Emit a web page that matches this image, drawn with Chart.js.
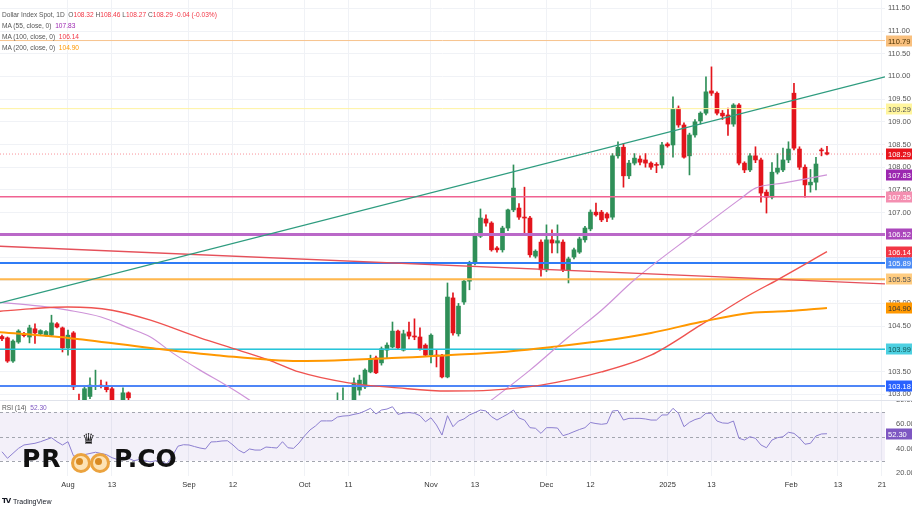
<!DOCTYPE html>
<html><head><meta charset="utf-8">
<script src="https://cdn.jsdelivr.net/npm/chart.js@4.4.1/dist/chart.umd.min.js"></script>
<style>
html,body{margin:0;padding:0;background:#fff;}
#wrap{position:relative;width:912px;height:513px;overflow:hidden;font-family:'Liberation Sans',Arial,sans-serif;background:#fff;}
canvas{position:absolute;left:0;}
.t{position:absolute;white-space:nowrap;font-size:6.6px;color:#555;line-height:8px;}
.g{color:#555}.r{color:#f23645}.p{color:#9c27b0}.o{color:#ff9800}.v{color:#7e57c2}
</style></head>
<body><div id="wrap">
<canvas id="cPrice" width="912" height="400" style="top:0;width:912px;height:400px"></canvas>
<canvas id="cRsi" width="912" height="95" style="top:400px;width:912px;height:95px"></canvas>
<div style="position:absolute;left:0;top:400px;width:912px;height:1px;background:#e0e3eb"></div>

<div class="t" style="left:2px;top:11px">Dollar Index Spot, 1D&nbsp; <span class="g">O</span><span class="r">108.32</span> <span class="g">H</span><span class="r">108.46</span> <span class="g">L</span><span class="r">108.27</span> <span class="g">C</span><span class="r">108.29</span> <span class="r">-0.04 (-0.03%)</span></div>
<div class="t" style="left:2px;top:22px">MA (55, close, 0)&nbsp; <span class="p">107.83</span></div>
<div class="t" style="left:2px;top:33px">MA (100, close, 0)&nbsp; <span class="r">106.14</span></div>
<div class="t" style="left:2px;top:44px">MA (200, close, 0)&nbsp; <span class="o">104.90</span></div>
<div class="t" style="left:2px;top:404px">RSI (14)&nbsp; <span class="v">52.30</span></div>

<!-- watermark logo -->
<div style="position:absolute;left:22px;top:446px;font:bold 25px 'DejaVu Sans';color:#111;letter-spacing:1px;line-height:26px">PR</div>
<div style="position:absolute;left:71px;top:453px;width:14px;height:14px;border:3px solid #eba33f;border-radius:50%;background:#fde3b5"></div>
<div style="position:absolute;left:76px;top:458px;width:7px;height:7px;border-radius:50%;background:#d98a22"></div>
<div style="position:absolute;left:90px;top:453px;width:14px;height:14px;border:3px solid #eba33f;border-radius:50%;background:#fde3b5"></div>
<div style="position:absolute;left:95px;top:458px;width:7px;height:7px;border-radius:50%;background:#d98a22"></div>
<div style="position:absolute;left:82px;top:431px;font:15px 'DejaVu Sans';color:#111;line-height:16px">♛</div>
<div style="position:absolute;left:114px;top:446px;font:bold 25px 'DejaVu Sans';color:#111;letter-spacing:0px;line-height:26px">P.CO</div>

<div style="position:absolute;left:2px;top:497px;font:bold 7px 'DejaVu Sans';color:#131722;letter-spacing:-1px">TV</div>
<div class="t" style="left:13px;top:498px;color:#131722;font-size:7px">TradingView</div>
</div>

<script>
// ---------- data ----------
const candleIdx = [-12,-11,-10,-9,-8,-7,-6,-5,-4,-3,-2,-1,0,1,2,3,4,5,6,7,8,10,11,
 49,50,52,53,54,55,56,57,58,59,60,61,62,63,64,65,66,67,68,69,70,71,72,73,74,75,76,77,78,79,80,
 81,82,83,84,85,86,87,88,89,90,91,92,93,94,95,96,97,98,99,100,101,102,103,104,105,106,107,108,
 109,110,111,112,113,114,115,116,117,118,119,120,121,122,123,124,125,126,127,128,129,130,131,
 132,133,134,135,136,137,138];
const candleOpen = [104.27,104.24,103.73,104.15,104.33,104.26,104.44,104.33,104.30,104.30,104.55,104.46,104.02,104.35,102.85,102.80,102.95,103.17,103.20,103.15,103.12,102.60,103.03,
 102.75,102.80,102.80,103.09,103.16,103.49,103.80,103.69,103.97,104.04,104.39,103.97,104.37,104.28,104.26,104.08,103.86,103.86,103.86,103.38,105.12,104.33,105.03,105.49,105.89,106.48,106.86,106.77,106.22,106.18,106.66,
 107.06,107.10,106.90,106.88,106.04,106.35,105.74,106.40,106.33,106.35,105.74,106.02,106.13,106.40,106.64,107.01,107.01,106.97,106.90,108.25,108.44,107.81,108.09,108.18,108.16,108.09,108.06,108.05,
 108.51,108.49,109.30,108.93,108.25,108.71,109.02,109.19,109.68,109.63,109.19,109.15,108.95,109.37,108.09,107.94,108.25,108.16,107.45,107.34,107.89,107.94,108.16,
 109.63,108.40,108.00,107.61,107.67,108.38,108.32];
const candleHigh = [104.30,104.26,104.20,104.42,104.36,104.52,104.55,104.42,104.40,104.74,104.58,104.48,104.41,104.38,103.00,103.18,103.36,103.53,103.31,103.27,103.16,103.14,103.05,
 103.03,103.14,103.36,103.42,103.56,103.86,103.84,104.04,104.13,104.59,104.41,104.41,104.59,104.66,104.46,104.11,104.33,103.97,103.88,105.45,105.23,105.00,105.52,105.93,106.55,107.08,106.95,106.80,106.25,106.70,107.08,
 108.05,107.20,107.56,106.92,106.18,106.40,106.73,106.62,106.73,106.40,106.02,106.22,106.46,106.70,107.06,107.21,107.05,107.00,108.30,108.56,108.52,108.15,108.30,108.25,108.30,108.12,108.10,108.55,
 108.54,109.55,109.35,108.98,108.75,109.05,109.22,109.99,110.21,109.66,109.25,109.30,109.40,109.40,108.12,108.30,108.45,108.20,107.50,108.10,108.30,108.42,108.56,
 109.85,108.45,108.05,107.95,108.22,108.42,108.46];
const candleLow = [104.18,103.70,103.70,104.12,104.26,104.13,104.12,104.30,104.28,104.28,104.46,103.93,103.86,103.10,102.16,102.70,102.90,103.10,103.14,103.05,102.55,102.50,102.50,
 102.60,102.70,102.70,102.98,103.12,103.47,103.45,103.64,103.80,104.02,103.98,103.95,104.22,104.20,103.97,103.84,103.69,103.60,103.36,103.36,104.30,104.28,104.98,105.30,105.85,106.45,106.70,106.15,106.13,106.13,106.60,
 107.02,106.85,106.51,106.02,106.00,105.60,105.70,106.11,106.11,105.70,105.45,105.98,106.10,106.35,106.60,106.92,106.80,106.80,106.85,108.20,107.56,107.75,108.05,108.05,108.00,107.95,107.88,107.98,
 108.44,108.22,108.88,108.20,107.83,108.66,108.95,109.15,109.58,109.15,109.05,108.70,108.90,108.05,107.88,107.90,108.10,107.23,106.99,107.30,107.85,107.90,108.10,
 108.38,107.95,107.34,107.45,107.50,108.25,108.27];
const candleClose = [104.22,103.73,104.17,104.39,104.29,104.46,104.35,104.40,104.38,104.57,104.48,104.02,104.30,103.16,102.70,103.12,103.20,103.19,103.17,103.10,102.62,103.03,102.92,
 102.80,102.85,103.25,103.31,103.53,103.78,103.47,104.00,104.08,104.39,104.02,104.33,104.28,104.26,104.00,103.86,104.30,103.84,103.38,105.14,104.35,104.94,105.49,105.89,106.51,106.88,106.77,106.18,106.18,106.66,107.06,
 107.54,106.90,106.88,106.07,106.15,105.74,106.40,106.33,106.38,105.74,105.98,106.18,106.42,106.66,107.01,106.95,106.84,106.88,108.25,108.44,107.81,108.09,108.20,108.11,108.09,108.00,108.04,108.49,
 108.47,109.28,108.93,108.22,108.71,109.00,109.19,109.66,109.63,109.19,109.13,108.95,109.37,108.09,107.94,108.25,108.16,107.43,107.34,107.89,107.98,108.16,108.40,
 108.42,108.00,107.61,107.67,108.07,108.36,108.29];

const ma55Idx = [-13,-5,0,6,11,15,19,24,29,33,55,77,84,91,97,103,114,122,125,130,138];
const ma55Val = [105.03,104.94,104.85,104.70,104.46,104.26,103.91,103.53,103.18,102.87,100.90,102.87,103.53,104.26,104.85,105.52,106.55,107.28,107.54,107.65,107.83];
const ma100Idx = [-13,-7,0,8,15,24,31,37,42,51,60,69,77,86,97,106,115,124,129,138];
const ma100Val = [104.82,104.88,104.92,104.85,104.63,104.24,103.97,103.73,103.49,103.25,103.14,103.07,103.09,103.20,103.49,103.86,104.52,105.19,105.52,106.14];
const ma200Idx = [-13,0,15,27,42,60,69,79,88,97,106,115,124,131,138];
const ma200Val = [104.37,104.24,104.02,103.86,103.73,103.80,103.86,103.93,104.04,104.17,104.35,104.59,104.79,104.83,104.90];

const levelVals   = [110.79, 109.29, 107.35, 106.52, 105.89, 105.53, 103.99, 103.18];
const levelColors = ['#f7c48e','#fff3a0','#f06292','#ba68c8','#2f7cf6','#ffb74d','#26c6da','#4f86f7'];
const levelWidths = [1, 1, 1.6, 3, 2, 2, 1.5, 2];
const lastClose = 108.29;

const tealTrendIdx = [-12.36, 148.55];
const tealTrendVal = [105.01, 109.99];
const redTrendIdx  = [-12.36, 148.55];
const redTrendVal  = [106.26, 105.43];

const rsiIdx = [-12,-11,-9,-8,-6,-5,-3,-2,-1,0,1,2,3,4,5,6,7,8,9,10,11,12,13,14,15,16,17,18,19,20,21,22,23,24,25,26,27,28,29,30,
 31,32,33,34,35,36,37,38,39,40,41,42,43,44,45,46,47,48,49,50,51,52,53,54,55,56,57,58,59,60,61,62,63,64,65,66,67,68,69,70,
 71,72,73,74,75,76,77,78,79,80,81,82,83,84,85,86,87,88,89,90,91,92,93,94,95,96,97,98,99,100,101,102,103,104,105,106,107,108,
 109,110,111,112,113,114,115,116,117,118,119,120,121,122,123,124,125,126,127,128,129,130,131,132,133,134,135,136,137,138];
const rsiVal = [37.4,32.0,40.2,43.0,44.4,45.7,49.0,45.7,43.0,45.7,34.0,33.0,35.0,36.0,37.0,36.0,35.0,32.5,31.0,33.0,32.0,30.0,31.0,30.0,29.0,30.0,29.0,27.5,34.0,42.0,43.2,43.0,41.7,40.5,39.7,45.5,45.7,46.3,46.5,43.0,
 38.8,36.4,39.7,38.8,38.8,41.3,40.9,40.5,45.7,40.7,40.2,44.6,50.4,55.4,58.7,62.9,62.9,62.9,66.1,66.9,67.2,68.3,69.2,71.1,73.3,68.6,71.9,72.7,74.6,68.3,69.4,69.8,69.2,67.2,62.2,65.5,59.5,51.2,67.2,58.1,
 62.8,64.5,67.8,69.8,71.9,71.1,66.4,63.6,66.1,68.6,71.9,65.3,63.6,57.3,56.8,52.6,57.3,57.3,57.0,50.7,52.1,54.0,55.8,57.3,61.6,60.7,60.1,60.7,71.1,71.5,63.6,65.0,65.0,65.0,64.5,63.6,63.6,67.8,
 67.8,73.3,69.2,58.1,61.7,64.0,65.3,69.2,69.2,62.8,61.2,60.9,62.8,48.5,47.1,49.8,48.5,43.0,40.7,47.1,49.0,49.8,53.5,52.6,48.8,43.6,44.4,50.4,52.1,52.3];
const rsiLevels = [70, 50, 30];

const dateTickIdx    = [0,8,22,30,43,51,66,74,87,95,109,117,131.5,140,148];
const dateTickLabels = ['Aug','13','Sep','12','Oct','11','Nov','13','Dec','12','2025','13','Feb','13','21'];
const priceTicks = [111.5,111,110.5,110,109.5,109,108.5,108,107.5,107,106.5,106,105.5,105,104.5,104,103.5,103];
const rsiTicks = [20,40,60,80];

// axis labels on the price scale: [value, background, text]
const priceLabels = [
 [110.79,'#f9c07e','#4a3000'],[109.29,'#fff59d','#555'],[108.29,'#e8141c','#fff'],[107.83,'#9c27b0','#fff'],
 [107.35,'#f48fb1','#fff'],[106.52,'#ab47bc','#fff'],[106.14,'#f23645','#fff'],[105.89,'#4d8cf5','#fff'],
 [105.53,'#ffcc80','#555'],[104.90,'#ff9800','#333'],[103.99,'#4dd0e1','#155'],[103.18,'#2962ff','#fff']
];

// ---------- layout constants ----------
const XMIN = -12.36, XMAX = 148.55;
const YMIN = 102.872, YMAX = 111.683;
const RMIN = 17.36, RMAX = 80.17;
const AXIS_W = 27;
const UP = '#2f8f58', DOWN = '#e3141c';
const FONT = 'Liberation Sans';

const pts = (xs, ys) => xs.map((x, i) => ({x, y: ys[i]}));
const cols = candleIdx.map((_, i) => candleClose[i] >= candleOpen[i] ? UP : DOWN);
const noPadY = s => { s.width = AXIS_W; s.paddingTop = 0; s.paddingBottom = 0; };

const lineDs = (data, color, width, extra) => Object.assign({
  type: 'line', data, borderColor: color, borderWidth: width, pointRadius: 0,
  fill: false, tension: 0, order: 1
}, extra || {});

const datasets = [];
levelVals.forEach((v, i) => datasets.push(lineDs(pts([XMIN, XMAX], [v, v]), levelColors[i], levelWidths[i], {order: 3})));
datasets.push(lineDs(pts([XMIN, XMAX], [lastClose, lastClose]), 'rgba(242,54,69,0.55)', 1, {borderDash: [1, 2], order: 3}));
datasets.push(lineDs(pts(tealTrendIdx, tealTrendVal), '#2e9c7f', 1.4, {order: 2}));
datasets.push(lineDs(pts(redTrendIdx, redTrendVal), '#e5505a', 1.4, {order: 2}));
datasets.push(lineDs(pts(ma200Idx, ma200Val), '#ff9800', 2, {cubicInterpolationMode: 'monotone', order: 2}));
datasets.push(lineDs(pts(ma100Idx, ma100Val), '#ef5350', 1.4, {cubicInterpolationMode: 'monotone', order: 2}));
datasets.push(lineDs(pts(ma55Idx, ma55Val), '#ce93d8', 1.2, {cubicInterpolationMode: 'monotone', order: 2}));
datasets.push({
  type: 'bar', data: candleIdx.map((x, i) => ({x, y: [candleLow[i], candleHigh[i]]})),
  backgroundColor: cols, borderWidth: 0, barThickness: 1, grouped: false, clip: 0, order: 11
});
datasets.push({
  type: 'bar', data: candleIdx.map((x, i) => ({x, y: [candleOpen[i], candleClose[i]]})),
  backgroundColor: cols, borderWidth: 0, barThickness: 4, grouped: false, minBarLength: 1, clip: 0, order: 10
});

const priceLabelPlugin = {
  id: 'priceLabels',
  afterDraw(c) {
    const {ctx} = c, y = c.scales.y;
    ctx.save();
    ctx.font = '7.5px ' + FONT;
    ctx.textBaseline = 'middle';
    priceLabels.forEach(([v, bg, fg]) => {
      const py = Math.round(y.getPixelForValue(v));
      ctx.fillStyle = bg;
      ctx.fillRect(886, py - 5.5, 26, 11);
      ctx.fillStyle = fg;
      ctx.fillText(v.toFixed(2), 888, py + 0.5);
    });
    ctx.restore();
  }
};

new Chart(document.getElementById('cPrice'), {
  type: 'bar',
  data: {datasets},
  options: {
    responsive: false, animation: false, events: [],
    layout: {padding: 0, autoPadding: false},
    plugins: {legend: {display: false}, tooltip: {enabled: false}},
    scales: {
      x: {
        type: 'linear', min: XMIN, max: XMAX, offset: false,
        grid: {color: '#f0f2f6', drawTicks: false, offset: false}, border: {display: false},
        ticks: {display: false},
        afterBuildTicks: s => { s.ticks = dateTickIdx.map(v => ({value: v})); },
        afterFit: s => { s.height = 0; s.paddingLeft = 0; s.paddingRight = 0; }
      },
      y: {
        position: 'right', min: YMIN, max: YMAX,
        grid: {color: '#f0f2f6', drawTicks: false}, border: {display: false},
        ticks: {font: {size: 7.5, family: FONT}, color: '#555', padding: 3, callback: v => Number(v).toFixed(2)},
        afterBuildTicks: s => { s.ticks = priceTicks.map(v => ({value: v})); },
        afterFit: noPadY
      }
    }
  },
  plugins: [priceLabelPlugin]
});

const rsiPlugin = {
  id: 'rsiBands',
  beforeDatasetsDraw(c) {
    const {ctx, chartArea: a} = c, y = c.scales.y;
    const yTop = y.getPixelForValue(rsiLevels[0]), yBot = y.getPixelForValue(rsiLevels[2]);
    ctx.save();
    ctx.fillStyle = 'rgba(126,87,194,0.09)';
    ctx.fillRect(a.left, yTop, a.right - a.left, yBot - yTop);
    ctx.setLineDash([3, 3]);
    ctx.strokeStyle = '#a3a6af';
    ctx.lineWidth = 1;
    rsiLevels.forEach(v => {
      const yy = Math.round(y.getPixelForValue(v)) + 0.5;
      ctx.beginPath(); ctx.moveTo(a.left, yy); ctx.lineTo(a.right, yy); ctx.stroke();
    });
    ctx.restore();
  },
  afterDraw(c) {
    const {ctx} = c, y = c.scales.y;
    const v = rsiVal[rsiVal.length - 1];
    const py = Math.round(y.getPixelForValue(v));
    ctx.save();
    ctx.fillStyle = '#7e57c2';
    ctx.fillRect(886, py - 5.5, 26, 11);
    ctx.fillStyle = '#fff';
    ctx.font = '7.5px ' + FONT;
    ctx.textBaseline = 'middle';
    ctx.fillText(v.toFixed(2), 888, py + 0.5);
    ctx.restore();
  }
};

new Chart(document.getElementById('cRsi'), {
  type: 'line',
  data: {datasets: [{
    data: pts(rsiIdx, rsiVal), borderColor: '#8c7fd0', borderWidth: 1, pointRadius: 0, fill: false, tension: 0
  }]},
  options: {
    responsive: false, animation: false, events: [],
    layout: {padding: 0, autoPadding: false},
    plugins: {legend: {display: false}, tooltip: {enabled: false}},
    scales: {
      x: {
        type: 'linear', min: XMIN, max: XMAX,
        grid: {color: '#f0f2f6', drawTicks: false}, border: {display: false},
        ticks: {font: {size: 7.5, family: FONT}, color: '#333', padding: 4, maxRotation: 0, autoSkip: false,
                callback: (v, i) => dateTickLabels[i]},
        afterBuildTicks: s => { s.ticks = dateTickIdx.map(v => ({value: v})); },
        afterFit: s => { s.height = 19; s.paddingLeft = 0; s.paddingRight = 0; }
      },
      y: {
        position: 'right', min: RMIN, max: RMAX,
        grid: {display: false}, border: {display: false},
        ticks: {font: {size: 7.5, family: FONT}, color: '#555', padding: 3, callback: v => Number(v).toFixed(2)},
        afterBuildTicks: s => { s.ticks = rsiTicks.map(v => ({value: v})); },
        afterFit: noPadY
      }
    }
  },
  plugins: [rsiPlugin]
});
</script>
</body></html>
